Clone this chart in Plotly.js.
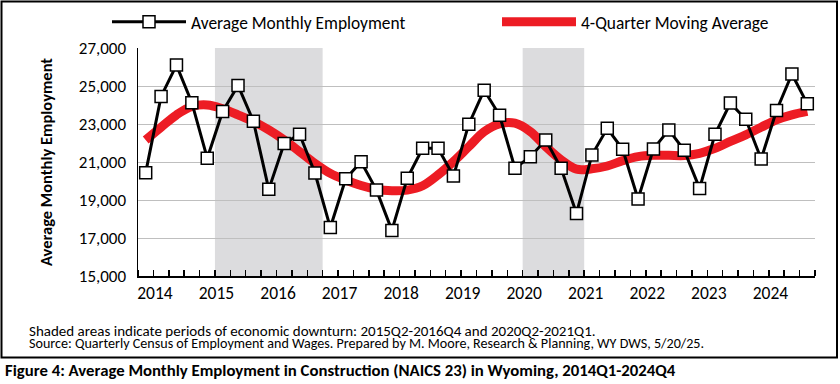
<!DOCTYPE html>
<html><head><meta charset="utf-8">
<script src="https://cdn.plot.ly/plotly-3.0.1.min.js"></script>
<style>html,body{margin:0;padding:0;background:#fff}#chart{width:840px;height:384px}</style>
</head><body><div id="chart"></div>
<script>
const years = ['2014','2015','2016','2017','2018','2019','2020','2021','2022','2023','2024'];
const quarters = [];
years.forEach(y => ['Q1','Q2','Q3','Q4'].forEach(q => quarters.push(y + q)));

const employment = [
  20440, 24450, 26100, 24120,
  21200, 23660, 25030, 23150,
  19560, 21970, 22460, 20420,
  17550, 20120, 21010, 19520,
  17400, 20140, 21720, 21720,
  20260, 22990, 24780, 23460,
  20670, 21280, 22160, 20670,
  18290, 21370, 22770, 21670,
  19050, 21690, 22690, 21620,
  19610, 22460, 24100, 23250,
  21160, 23710, 25630, 24060
];
const movingAverage = [
  22160, 22830, 23480, 23920,
  24000, 23800, 23480, 23130,
  22690, 22160, 21550, 20930,
  20400, 20050, 19760, 19560,
  19490, 19520, 19750, 20320,
  21020, 21810, 22600, 23010,
  23040, 22600, 21810, 21110,
  20620, 20640, 20790, 21070,
  21280, 21350, 21350, 21340,
  21460, 21720, 22080, 22430,
  22830, 23220, 23480, 23660
];
const downturns = [['2015Q2','2016Q4'], ['2020Q2','2021Q1']];
const seriesNames = ['Average Monthly Employment', '4-Quarter Moving Average'];
const yTitle = 'Average Monthly Employment';
const footnotes = [
  'Shaded areas indicate periods of economic downturn: 2015Q2-2016Q4 and 2020Q2-2021Q1.',
  'Source: Quarterly Census of Employment and Wages. Prepared by M. Moore, Research &amp; Planning, WY DWS, 5/20/25.'
];
const figureTitle = 'Figure 4: Average Monthly Employment in Construction (NAICS 23) in Wyoming, 2014Q1-2024Q4';

const FONT = 'Carlito, Lato, "Liberation Sans", sans-serif';
const W = 840, H = 384;
const M = {l: 138, r: 25, t: 48, b: 108, autoexpand: false};
const PW = W - M.l - M.r, PH = H - M.t - M.b;
const px = x => (x - M.l) / PW;
const py = y => (H - M.b - y) / PH;

const xIdx = quarters.map((q, i) => i);

const traces = [
  {
    x: xIdx, y: movingAverage, name: seriesNames[1], type: 'scatter', mode: 'lines',
    line: {color: '#ED1C24', width: 9, shape: 'spline', smoothing: 1},
    legend: 'legend2', hoverinfo: 'skip'
  },
  {
    x: xIdx, y: employment, name: seriesNames[0], type: 'scatter', mode: 'lines+markers',
    line: {color: '#000', width: 3},
    marker: {symbol: 'square', size: 12, color: '#fff', line: {color: '#000', width: 1.5}},
    legend: 'legend', hoverinfo: 'skip'
  }
];

const shapes = downturns.map(([a, b]) => ({
  type: 'rect', xref: 'x', yref: 'paper', layer: 'below',
  x0: quarters.indexOf(a) - 0.5, x1: quarters.indexOf(b) + 0.5, y0: 0, y1: 1,
  fillcolor: '#DCDCDE', line: {width: 0}
}));
shapes.push({
  type: 'rect', xref: 'paper', yref: 'paper', layer: 'above',
  x0: px(1.5), x1: px(837), y0: py(357.5), y1: py(1.5),
  line: {color: '#000', width: 2}, fillcolor: 'rgba(0,0,0,0)'
});

const annotations = [
  {text: footnotes[0], xref: 'paper', yref: 'paper', x: px(27), y: py(331), xanchor: 'left', yanchor: 'middle', showarrow: false, font: {size: 15, color: '#000', family: FONT}},
  {text: footnotes[1], xref: 'paper', yref: 'paper', x: px(27), y: py(343.5), xanchor: 'left', yanchor: 'middle', showarrow: false, font: {size: 14.1, color: '#000', family: FONT}},
  {text: '<b>' + figureTitle + '</b>', xref: 'paper', yref: 'paper', x: px(3), y: py(370), xanchor: 'left', yanchor: 'middle', showarrow: false, font: {size: 16.75, color: '#000', family: FONT}}
];

const layout = {
  width: W, height: H, margin: M,
  paper_bgcolor: '#fff', plot_bgcolor: 'rgba(0,0,0,0)',
  font: {family: FONT, color: '#000', size: 17},
  showlegend: true,
  legend: {orientation: 'h', x: px(107), y: py(22), xanchor: 'left', yanchor: 'middle', itemwidth: 74, font: {size: 17.4}, bgcolor: 'rgba(0,0,0,0)'},
  legend2: {orientation: 'h', x: px(497), y: py(22), xanchor: 'left', yanchor: 'middle', itemwidth: 74, font: {size: 17.4}, bgcolor: 'rgba(0,0,0,0)'},
  xaxis: {
    range: [-0.5, quarters.length - 0.5], showgrid: false, zeroline: false,
    showline: true, linecolor: '#000', linewidth: 1.5,
    tickvals: years.map((y, k) => 4 * k + 0.6), ticktext: years, ticks: '',
    tickfont: {size: 17.5},
    minor: {ticks: 'inside', tick0: -0.5, dtick: 1, ticklen: 6, tickcolor: '#000', tickwidth: 1.5, showgrid: false}
  },
  yaxis: {
    range: [15000, 27000], tick0: 15000, dtick: 2000, tickformat: ',d', ticks: '',
    showgrid: true, gridcolor: '#BFBFBF', gridwidth: 1, zeroline: false,
    showline: true, linecolor: '#000', linewidth: 1.5,
    tickfont: {size: 17}, ticklabelstandoff: 7,
    title: {text: '<b>' + yTitle + '</b>', font: {size: 16.5}, standoff: 22}
  },
  shapes: shapes,
  annotations: annotations
};

Plotly.newPlot('chart', traces, layout, {staticPlot: true, displayModeBar: false});
</script>
</body></html>
